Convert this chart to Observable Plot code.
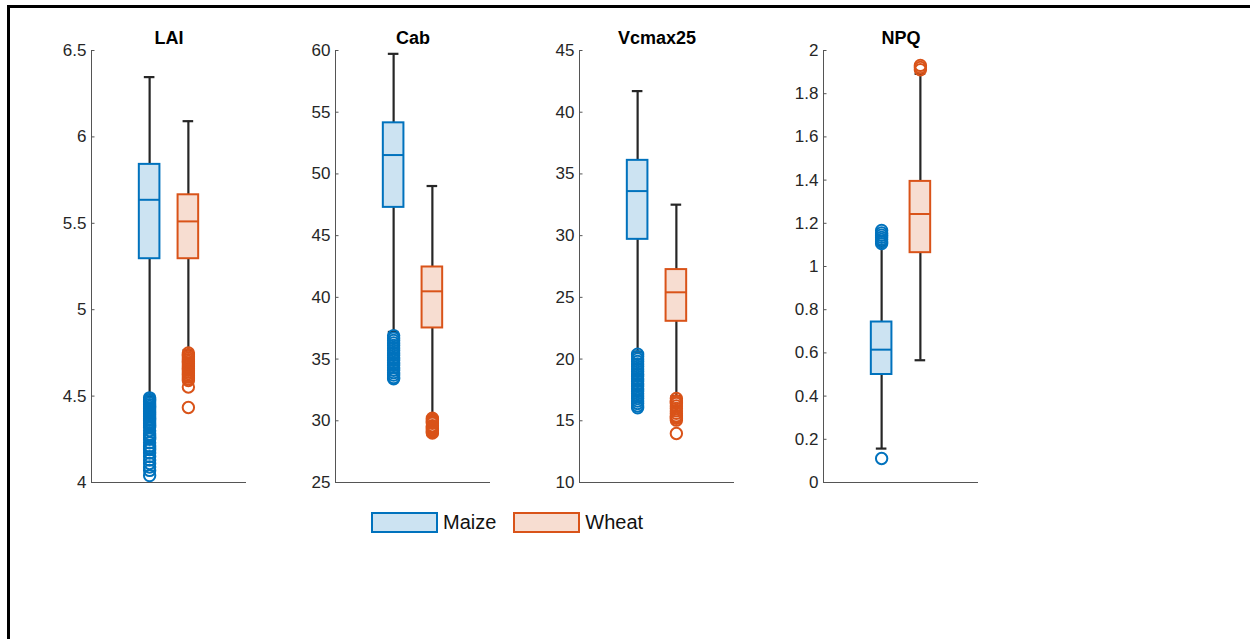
<!DOCTYPE html>
<html><head><meta charset="utf-8">
<script src="https://cdn.jsdelivr.net/npm/d3@7"></script>
<script src="https://cdn.jsdelivr.net/npm/@observablehq/plot@0.6"></script>
<style>
html,body{margin:0;padding:0;background:#fff;}
body{width:1250px;height:639px;overflow:hidden;position:relative;font-family:"Liberation Sans",Arial,sans-serif;}
#border{position:absolute;left:7px;top:5px;width:1400px;height:800px;border-top:3px solid #000;border-left:3px solid #000;}
.panel{position:absolute;}
#legend{position:absolute;left:371px;top:511px;display:flex;align-items:center;font-size:20px;color:#111;}
.item{display:flex;align-items:center;margin-right:17px;}
.sw{width:67px;height:21px;box-sizing:border-box;border:2px solid;margin-right:5px;}
</style></head><body>
<div id="border"></div>
<div id="legend"></div>
<script>
const variables = ["LAI", "Cab", "Vcmax25", "NPQ"];
const groups = ["Maize", "Wheat"];
const yDomains = [[4, 6.5], [25, 60], [10, 45], [0, 2]];
const yTicks = [
  [4, 4.5, 5, 5.5, 6, 6.5],
  [25, 30, 35, 40, 45, 50, 55, 60],
  [10, 15, 20, 25, 30, 35, 40, 45],
  [0, 0.2, 0.4, 0.6, 0.8, 1, 1.2, 1.4, 1.6, 1.8, 2]
];
// [lower whisker, q1, median, q3, upper whisker]
const maizeStats = [
  [4.50, 5.295, 5.636, 5.841, 6.346],
  [37.2, 47.29, 51.53, 54.14, 59.73],
  [20.6, 29.70, 33.61, 36.10, 41.71],
  [0.157, 0.500, 0.615, 0.743, 1.098]
];
const wheatStats = [
  [4.765, 5.295, 5.511, 5.665, 6.091],
  [30.3, 37.52, 40.49, 42.46, 49.02],
  [17.0, 23.06, 25.41, 27.25, 32.51],
  [0.566, 1.064, 1.243, 1.394, 1.892]
];
const maizeOutliers = [
  [4.49, 4.48, 4.47, 4.46, 4.45, 4.44, 4.43, 4.42, 4.41, 4.40, 4.39, 4.38, 4.37, 4.36, 4.35, 4.34, 4.33, 4.32, 4.30, 4.28, 4.27, 4.26, 4.25, 4.23, 4.21, 4.20, 4.19, 4.17, 4.15, 4.13, 4.11, 4.09, 4.07, 4.04],
  [36.9, 36.7, 36.5, 36.3, 36.1, 35.9, 35.7, 35.5, 35.3, 35.1, 34.9, 34.7, 34.5, 34.3, 34.1, 33.9, 33.7, 33.5, 33.4],
  [20.4, 20.2, 20.0, 19.8, 19.6, 19.4, 19.2, 19.0, 18.8, 18.6, 18.4, 18.2, 18.0, 17.8, 17.6, 17.4, 17.2, 17.0, 16.8, 16.6, 16.4, 16.2, 16.05],
  [1.167, 1.155, 1.145, 1.135, 1.125, 1.115, 1.106, 0.111]
];
const wheatOutliers = [
  [4.75, 4.74, 4.73, 4.72, 4.71, 4.70, 4.69, 4.68, 4.67, 4.66, 4.65, 4.64, 4.63, 4.62, 4.61, 4.60, 4.59, 4.553, 4.434],
  [30.2, 30.1, 30.0, 29.9, 29.8, 29.6, 29.5, 29.4, 29.3, 29.2, 29.1, 29.0],
  [16.8, 16.6, 16.5, 16.4, 16.2, 16.0, 15.8, 15.6, 15.4, 15.3, 15.2, 15.05, 13.97],
  [1.931, 1.921, 1.911]
];
const strokeColors = ["#0072BD", "#D95319"];
const fillColors = ["#CCE3F2", "#F7DDD1"];

const PW = 155, PH = 432, ML = 50, MR = 14, MT = 30, MB = 14;
const X0 = 91, STEP = 244, TOP = 50;
const xDom = [-1.5, 2.5];
const u = (xDom[1] - xDom[0]) / PW; // x units per pixel
const boxHalf = 10.3 * u, capHalf = 5.3 * u, tickLen = 3.5 * u;
const axisColor = "#555";
const whiskerColor = "#262626";

variables.forEach((v, i) => {
  const stats = [maizeStats[i], wheatStats[i]];
  const boxes = groups.map((g, j) => ({group: g, pos: j, lo: stats[j][0], q1: stats[j][1], med: stats[j][2], q3: stats[j][3], hi: stats[j][4]}));
  const outs = groups.flatMap((g, j) => [maizeOutliers, wheatOutliers][j][i].map(val => ({group: g, pos: j, val})));
  const chart = Plot.plot({
    width: ML + PW + MR,
    height: MT + PH + MB,
    marginLeft: ML, marginRight: MR, marginTop: MT, marginBottom: MB,
    x: {domain: xDom, axis: null},
    y: {domain: yDomains[i], axis: null},
    color: {type: "identity"},
    style: {fontFamily: "'Liberation Sans', Arial, sans-serif", background: "transparent", overflow: "visible", color: "#262626"},
    marks: [
      Plot.ruleX([xDom[0]], {stroke: axisColor, strokeWidth: 1}),
      Plot.ruleY([yDomains[i][0]], {stroke: axisColor, strokeWidth: 1}),
      Plot.ruleY(yTicks[i], {x1: xDom[0], x2: xDom[0] + tickLen, stroke: axisColor, strokeWidth: 1}),
      Plot.axisY({ticks: yTicks[i], tickSize: 0, tickPadding: 5, label: null, fontSize: 17, tickFormat: d3.format("~g"), fill: "#262626"}),
      Plot.ruleX(boxes, {x: "pos", y1: "lo", y2: "q1", stroke: whiskerColor, strokeWidth: 2.2}),
      Plot.ruleX(boxes, {x: "pos", y1: "q3", y2: "hi", stroke: whiskerColor, strokeWidth: 2.2}),
      Plot.ruleY(boxes, {y: "lo", x1: d => d.pos - capHalf, x2: d => d.pos + capHalf, stroke: whiskerColor, strokeWidth: 2.2}),
      Plot.ruleY(boxes, {y: "hi", x1: d => d.pos - capHalf, x2: d => d.pos + capHalf, stroke: whiskerColor, strokeWidth: 2.2}),
      Plot.rect(boxes, {x1: d => d.pos - boxHalf, x2: d => d.pos + boxHalf, y1: "q1", y2: "q3", fill: d => fillColors[d.pos], stroke: d => strokeColors[d.pos], strokeWidth: 2}),
      Plot.ruleY(boxes, {y: "med", x1: d => d.pos - boxHalf, x2: d => d.pos + boxHalf, stroke: d => strokeColors[d.pos], strokeWidth: 2}),
      Plot.dot(outs, {x: "pos", y: "val", r: 5.7, fill: "none", stroke: d => strokeColors[d.pos], strokeWidth: 2}),
      Plot.text([v], {frameAnchor: "top", lineAnchor: "middle", dy: -12, text: d => d, fontWeight: "bold", fontSize: 18, fill: "#000"})
    ]
  });
  chart.classList.add("panel");
  chart.style.left = (X0 + i * STEP - ML) + "px";
  chart.style.top = (TOP - MT) + "px";
  document.body.appendChild(chart);
});

const legend = document.getElementById("legend");
groups.forEach((g, j) => {
  const item = document.createElement("div");
  item.className = "item";
  const sw = document.createElement("div");
  sw.className = "sw";
  sw.style.borderColor = strokeColors[j];
  sw.style.background = fillColors[j];
  const t = document.createElement("span");
  t.textContent = g;
  item.appendChild(sw);
  item.appendChild(t);
  legend.appendChild(item);
});
</script>
</body></html>
